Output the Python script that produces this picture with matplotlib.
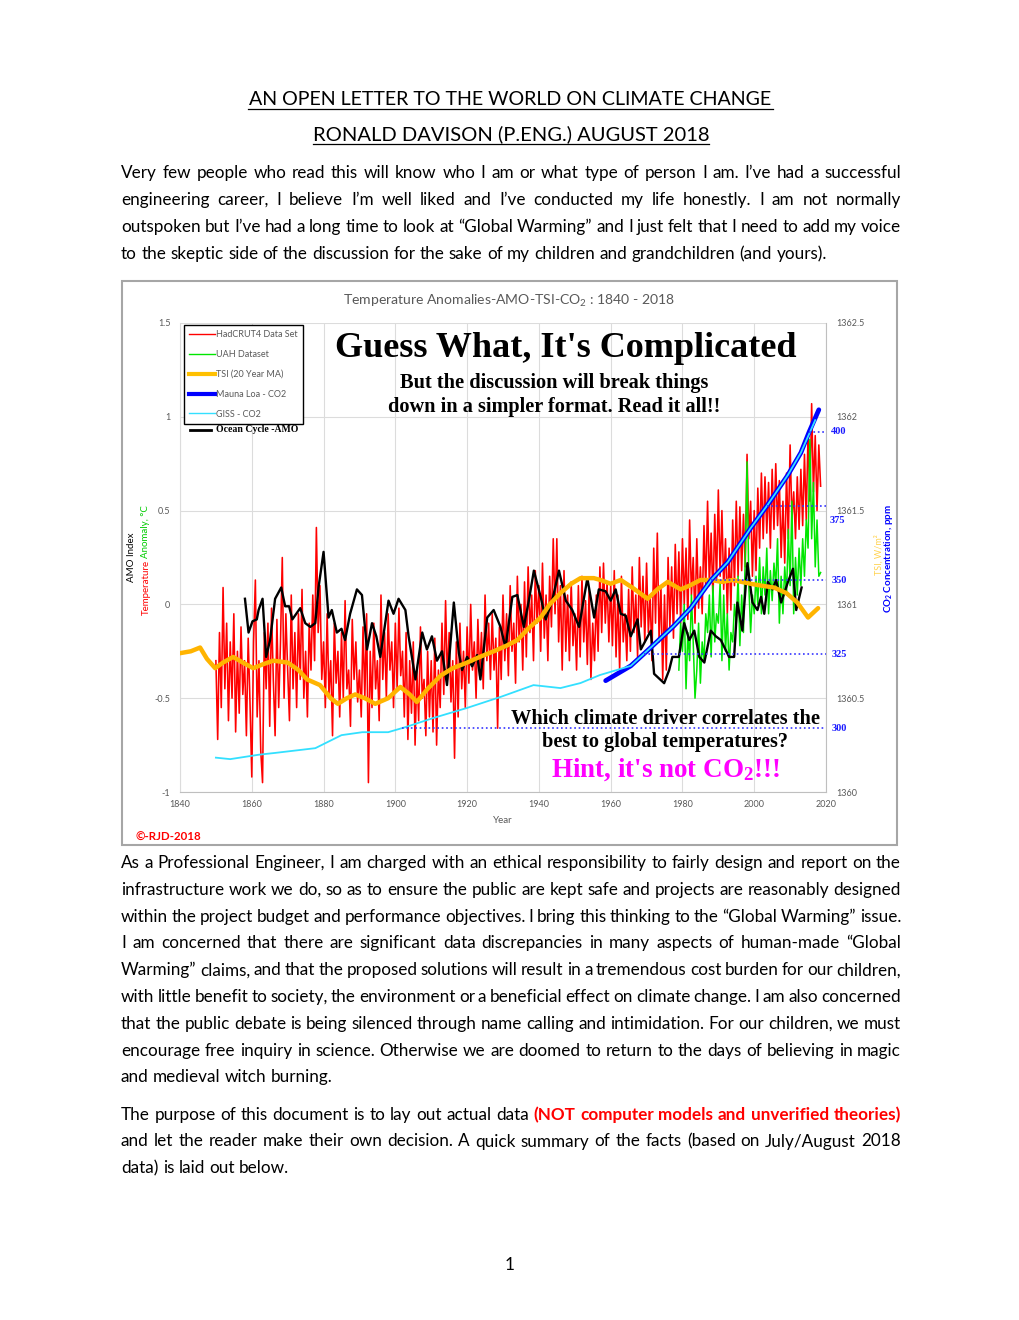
import numpy as np
import matplotlib.pyplot as plt
from matplotlib.lines import Line2D
from matplotlib.patches import Rectangle
from matplotlib.transforms import offset_copy

SANS = 'Lato'
SERIF = 'Liberation Serif'
plt.rcParams['font.family'] = [SANS, 'DejaVu Sans']
plt.rcParams['mathtext.default'] = 'regular'

W, H = 1020, 1320

# ---- values ----
# HadCRUT4 anomaly, half-year steps from 1850.0
hadcrut_start = 1850
hadcrut = [
    -0.30, -0.72, -0.15, -0.55, 0.09, -0.45, -0.10, -0.62, -0.20, -0.50, -0.05, -0.68, -0.25, -0.58, -0.12, -0.48, -0.30, -0.70, -0.18, -0.52,
    -0.92, -0.20, 0.13, -0.60, -0.30, -0.78, -0.95, -0.15, -0.45, -0.10, -0.65, -0.02, -0.40, -0.70, -0.08, -0.55, -0.20, 0.25, -0.50, -0.05,
    -0.35, -0.62, 0.05, -0.45, -0.15, -0.55, -0.05, -0.40, 0.08, -0.50, -0.25, -0.60, -0.10, -0.35, 0.05, -0.30, 0.41, -0.15, 0.10, -0.40,
    -0.20, -0.55, -0.05, -0.48, -0.30, -0.70, -0.10, -0.42, -0.25, -0.60, -0.15, -0.50, 0.02, -0.45, -0.35, -0.65, -0.08, -0.40, -0.20, -0.52,
    -0.35, -0.60, -0.12, -0.50, -0.05, -0.95, -0.25, -0.55, -0.10, -0.45, -0.30, -0.62, 0.05, -0.40, -0.15, -0.50, -0.05, -0.35, -0.20, -0.55,
    -0.10, -0.45, -0.02, -0.38, -0.25, -0.60, -0.15, -0.72, -0.30, -0.58, -0.20, -0.75, -0.35, -0.62, -0.12, -0.50, -0.40, -0.70, -0.25, -0.60,
    -0.30, -0.68, -0.18, -0.75, -0.35, -0.55, -0.10, -0.48, 0.02, -0.40, -0.15, -0.52, -0.30, -0.82, -0.20, -0.60, -0.10, -0.45, -0.25, -0.55,
    -0.12, -0.42, 0.00, -0.35, -0.20, -0.50, -0.08, -0.38, -0.15, -0.45, 0.05, -0.30, -0.10, -0.40, -0.05, -0.35, -0.18, -0.66, -0.12, -0.40,
    0.05, -0.30, -0.05, -0.38, 0.10, -0.25, -0.10, -0.42, 0.15, -0.20, 0.00, -0.35, 0.12, -0.28, 0.20, -0.15, 0.05, -0.30, 0.18, -0.10,
    0.10, -0.25, 0.22, -0.18, 0.05, -0.30, 0.15, -0.12, 0.35, -0.05, 0.35, -0.20, 0.10, -0.35, 0.18, -0.25, 0.05, -0.30, 0.12, -0.22,
    -0.05, -0.35, 0.10, -0.28, 0.15, -0.20, 0.02, -0.32, 0.08, -0.40, -0.10, -0.30, 0.05, -0.25, 0.20, -0.15, 0.22, -0.10, 0.12, -0.20,
    0.10, -0.22, 0.18, -0.28, 0.05, -0.35, 0.15, -0.20, -0.05, -0.30, 0.08, -0.25, 0.20, -0.15, 0.05, -0.28, 0.25, -0.12, 0.15, -0.20,
    0.22, -0.15, 0.05, -0.30, 0.30, -0.10, 0.38, -0.20, 0.10, -0.40, 0.05, -0.35, 0.25, -0.12, 0.20, -0.18, 0.32, -0.05, 0.28, -0.10,
    0.35, 0.00, 0.30, -0.08, 0.45, 0.05, 0.25, -0.10, 0.35, -0.02, 0.20, -0.05, 0.42, 0.08, 0.55, 0.10, 0.38, 0.02, 0.48, 0.12,
    0.61, 0.15, 0.50, 0.08, 0.35, -0.05, 0.30, -0.03, 0.45, 0.10, 0.55, 0.15, 0.52, 0.18, 0.48, 0.20, 0.80, 0.35, 0.55, 0.15,
    0.50, 0.18, 0.62, 0.30, 0.70, 0.35, 0.68, 0.38, 0.65, 0.30, 0.72, 0.40, 0.75, 0.42, 0.66, 0.25, 0.55, 0.22, 0.70, 0.35,
    0.85, 0.45, 0.60, 0.35, 0.68, 0.40, 0.72, 0.42, 0.80, 0.45, 0.92, 0.55, 1.07, 0.60, 0.90, 0.50, 0.85, 0.63,
]

# UAH anomaly, half-year steps from 1979.0
uah_start = 1979
uah = [
    -0.35, -0.10, -0.25, 0.00, -0.45, -0.15, -0.30, 0.05, -0.20, -0.50, -0.35, -0.10, -0.42, -0.20, -0.30, -0.05, -0.15, 0.05, -0.28, 0.10,
    -0.20, -0.05, -0.10, 0.12, -0.30, 0.05, -0.25, -0.05, -0.35, -0.15, -0.20, 0.00, -0.10, 0.15, -0.22, 0.05, -0.15, 0.25, 0.76, 0.10,
    -0.15, 0.05, -0.05, 0.15, 0.00, 0.25, -0.05, 0.20, 0.05, 0.30, -0.05, 0.18, 0.02, 0.22, 0.10, 0.35, -0.10, 0.15, -0.05, 0.20,
    0.05, 0.40, 0.10, 0.55, -0.05, 0.25, 0.05, 0.30, 0.10, 0.35, 0.15, 0.45, 0.30, 0.88, 0.35, 0.65, 0.20, 0.45, 0.15, 0.17,
]

amo_years = [
    1858.1, 1859.1, 1860.2, 1861.4, 1861.9, 1863.0, 1864.0, 1865.1, 1866.5, 1868.2,
    1869.3, 1870.4, 1871.3, 1873.5, 1874.9, 1876.3, 1877.7, 1878.6, 1880.0, 1881.4,
    1882.3, 1883.7, 1885.0, 1886.0, 1887.4, 1889.3, 1890.7, 1892.1, 1893.5, 1894.7,
    1895.8, 1898.1, 1899.5, 1900.9, 1902.8, 1903.7, 1905.6, 1907.5, 1908.8, 1910.2,
    1911.6, 1913.0, 1914.4, 1916.3, 1917.7, 1918.6, 1920.0, 1921.4, 1922.8, 1923.7,
    1925.6, 1927.4, 1929.3, 1930.7, 1932.6, 1934.0, 1935.8, 1937.2, 1938.6, 1940.5,
    1941.9, 1943.7, 1945.6, 1947.5, 1949.3, 1951.2, 1953.5, 1955.4, 1956.7, 1958.6,
    1960.0, 1961.4, 1962.8, 1964.2, 1965.6, 1967.5, 1968.4, 1971.2, 1972.1, 1974.9,
    1976.3, 1977.2, 1979.0, 1980.5, 1981.9, 1983.3, 1984.7, 1986.1, 1987.9, 1989.3,
    1990.7, 1993.0, 1994.4, 1995.3, 1996.7, 1998.1, 1999.5, 2000.9, 2001.9, 2002.8,
    2003.8, 2005.1, 2006.1, 2007.5, 2009.4, 2010.8, 2011.7, 2013.2,
]
amo = [
    0.03, -0.15, -0.09, -0.08, -0.03, 0.03, -0.28, -0.19, 0.03, 0.09,
    -0.01, -0.01, -0.08, -0.02, -0.10, -0.12, -0.10, 0.09, 0.28, -0.07,
    -0.03, -0.15, -0.13, -0.19, -0.05, 0.08, 0.05, -0.24, -0.10, -0.17,
    -0.28, 0.02, -0.05, 0.03, -0.03, -0.17, -0.40, -0.15, -0.24, -0.17,
    -0.30, -0.25, -0.43, 0.01, -0.26, -0.35, -0.28, -0.33, -0.27, -0.40,
    -0.07, -0.03, -0.12, -0.23, 0.04, 0.05, -0.12, 0.02, 0.18, 0.04,
    -0.08, 0.02, 0.18, 0.02, -0.03, -0.12, 0.14, -0.07, 0.08, 0.07,
    0.02, 0.08, -0.05, -0.06, -0.17, -0.08, -0.24, -0.14, -0.37, -0.42,
    -0.35, -0.28, -0.28, -0.10, -0.19, -0.14, -0.28, -0.31, -0.14, -0.17,
    -0.19, -0.28, -0.28, 0.01, -0.14, 0.22, 0.01, -0.03, 0.04, -0.05,
    0.12, 0.08, 0.13, 0.01, 0.12, 0.19, -0.03, 0.09,
]

tsi_years = [
    1840.0, 1843.0, 1845.6, 1847.5, 1849.8, 1852.0, 1854.8, 1857.5, 1860.4, 1863.0,
    1866.0, 1870.0, 1873.0, 1875.4, 1879.0, 1882.0, 1884.0, 1886.5, 1888.8, 1891.5,
    1894.4, 1898.0, 1901.4, 1904.0, 1906.0, 1909.0, 1912.6, 1916.0, 1920.0, 1923.5,
    1927.4, 1931.0, 1934.0, 1937.0, 1940.5, 1943.0, 1946.0, 1949.0, 1951.6, 1955.3,
    1957.2, 1960.0, 1962.8, 1966.0, 1970.3, 1973.0, 1975.9, 1979.5, 1982.0, 1985.0,
    1988.0, 1991.0, 1994.0, 1996.5, 1999.0, 2002.0, 2005.5, 2009.0, 2012.0, 2015.0, 2017.8,
]
tsi = [
    1360.74, 1360.75, 1360.77, 1360.71, 1360.66, 1360.69, 1360.72, 1360.69, 1360.66, 1360.68,
    1360.70, 1360.69, 1360.65, 1360.60, 1360.57, 1360.50, 1360.47, 1360.50, 1360.52, 1360.50,
    1360.47, 1360.50, 1360.56, 1360.52, 1360.48, 1360.55, 1360.62, 1360.66, 1360.69, 1360.72,
    1360.75, 1360.78, 1360.81, 1360.87, 1360.93, 1361.00, 1361.06, 1361.11, 1361.14, 1361.14,
    1361.13, 1361.11, 1361.13, 1361.09, 1361.03, 1361.08, 1361.12, 1361.08, 1361.10, 1361.13,
    1361.13, 1361.12, 1361.13, 1361.12, 1361.11, 1361.10, 1361.09, 1361.06, 1361.01, 1360.93, 1360.98,
]

giss_years = [1850, 1854, 1862, 1866.5, 1877.7, 1885, 1890.8, 1898, 1902.8, 1910.6, 1920, 1929.3, 1938.5,
              1946, 1951.6, 1957, 1965.6, 1971, 1977.6, 1982.3, 1988, 1992.6, 1999, 2003.8, 2009.4, 2013, 2017]
giss_co2 = [290, 289.5, 291, 291.6, 293.2, 297.6, 298.6, 298.6, 300.3, 303.4, 306.8, 310.5, 314.5,
            313.5, 315.2, 317.9, 321, 327, 334.5, 340.5, 350, 356, 367.5, 375.5, 385.5, 393, 404]

mlo_years = [1958.6, 1965.6, 1971, 1977.6, 1982.3, 1988, 1992.6, 1999, 2003.8, 2009.4, 2013, 2015.3, 2018]
mlo_co2 = [316, 321, 327, 334.5, 340.5, 350, 356, 367.5, 375.5, 385.5, 393, 400, 407.5]

co2_levels = [300, 325, 350, 375, 400]
year_ticks = [1840, 1860, 1880, 1900, 1920, 1940, 1960, 1980, 2000, 2020]
temp_ticks = [-1, -0.5, 0, 0.5, 1, 1.5]
temp_labels = ['-1', '-0.5', '0', '0.5', '1', '1.5']
tsi_ticks = [1360, 1360.5, 1361, 1361.5, 1362, 1362.5]
tsi_labels = ['1360', '1360.5', '1361', '1361.5', '1362', '1362.5']
legend_labels = ['HadCRUT4 Data Set', 'UAH Dataset', 'TSI (20 Year MA)', 'Mauna Loa - CO2', 'GISS - CO2']

title_lines = ['AN OPEN LETTER TO THE WORLD ON CLIMATE CHANGE', 'RONALD DAVISON (P.ENG.) AUGUST 2018']

para1 = [
    'Very few people who read this will know who I am or what type of person I am. I’ve had a successful',
    'engineering career, I believe I’m well liked and I’ve conducted my life honestly. I am not normally',
    'outspoken but I’ve had a long time to look at “Global Warming” and I just felt that I need to add my voice',
    'to the skeptic side of the discussion for the sake of my children and grandchildren (and yours).',
]
para2 = [
    'As a Professional Engineer, I am charged with an ethical responsibility to fairly design and report on the',
    'infrastructure work we do, so as to ensure the public are kept safe and projects are reasonably designed',
    'within the project budget and performance objectives. I bring this thinking to the “Global Warming” issue.',
    'I am concerned that there are significant data discrepancies in many aspects of human-made “Global',
    'Warming” claims, and that the proposed solutions will result in a tremendous cost burden for our children,',
    'with little benefit to society, the environment or a beneficial effect on climate change. I am also concerned',
    'that the public debate is being silenced through name calling and intimidation. For our children, we must',
    'encourage free inquiry in science. Otherwise we are doomed to return to the days of believing in magic',
    'and medieval witch burning.',
]
para3_first = ('The purpose of this document is to lay out actual data', '(NOT computer models and unverified theories)')
para3 = [
    'and let the reader make their own decision. A quick summary of the facts (based on July/August 2018',
    'data) is laid out below.',
]


def fx(px):
    return px / W


def fy(py):
    return 1 - py / H


fig = plt.figure(figsize=(W / 100, H / 100), dpi=100)
fig.patch.set_facecolor('white')
rend = fig.canvas.get_renderer()


def width_of(s, fs, weight='normal', family=SANS):
    t = fig.text(0, 0, s, fontsize=fs, fontweight=weight, family=family)
    w = t.get_window_extent(rend).width
    t.remove()
    return w


def fit_text(x0, x1, ybase, s, **kw):
    # scale the font so the text spans x0..x1 like in the page
    t = fig.text(fx((x0 + x1) / 2), fy(ybase), s, ha='center', va='baseline', **kw)
    w = t.get_window_extent(rend).width
    t.set_fontsize(t.get_fontsize() * (x1 - x0) / w)
    return t


# ---- page heading ----
for s, (x0, x1), yb in zip(title_lines, [(248, 773), (313, 709)], [105, 140]):
    fit_text(x0, x1, yb, s, fontsize=14, family=SANS, color='black')
    fig.add_artist(Line2D([fx(x0), fx(x1)], [fy(yb + 4), fy(yb + 4)], color='black', lw=0.9))

# ---- body text (justified) ----
LEFT, RIGHT = 121, 901
base_fs = 13.0
space_w = width_of('a a', base_fs) - width_of('aa', base_fs)
justified = para1[:-1] + para2[:-1] + [para3[0], ' '.join(para3_first)]
ratio = 1.0
for line in justified:
    ws = line.split()
    nat = sum(width_of(w, base_fs) for w in ws) + (len(ws) - 1) * 0.8 * space_w
    ratio = min(ratio, (RIGHT - LEFT) / nat)
body_fs = base_fs * ratio
space_w = space_w * ratio


def put_line(chunks, ybase, justify):
    words = []
    for s, color, weight in chunks:
        for w in s.split():
            words.append((w, color, weight))
    widths = [width_of(w, body_fs, wt) for w, c, wt in words]
    gap = (RIGHT - LEFT - sum(widths)) / (len(words) - 1) if justify else space_w
    x = LEFT
    for (w, c, wt), wd in zip(words, widths):
        fig.text(fx(x), fy(ybase), w, fontsize=body_fs, family=SANS, color=c,
                 fontweight=wt, va='baseline')
        x += wd + gap


for i, line in enumerate(para1):
    put_line([(line, 'black', 'normal')], 178 + i * 27, i < len(para1) - 1)
for i, line in enumerate(para2):
    put_line([(line, 'black', 'normal')], 868 + i * 26.8, i < len(para2) - 1)
put_line([(para3_first[0], 'black', 'normal'), (para3_first[1], '#ff0000', 'bold')], 1120, True)
for i, line in enumerate(para3):
    put_line([(line, 'black', 'normal')], 1146.5 + i * 26.5, i < len(para3) - 1)
fig.text(fx(510), fy(1270), '1', fontsize=body_fs, family=SANS, ha='center', va='baseline')

# ---- chart frame ----
fig.add_artist(Rectangle((fx(122), fy(845)), (897 - 122) / W, (845 - 281) / H,
                         transform=fig.transFigure, fill=False, edgecolor='#a6a6a6', lw=1.5))
fit_text(343, 676, 305, 'Temperature Anomalies-AMO-TSI-CO$_2$ : 1840 - 2018',
         fontsize=10, family=SANS, color='#595959')

ax = fig.add_axes([fx(180), fy(792), (826 - 180) / W, (792 - 323) / H])
ax.set_xlim(1840, 2020)
ax.set_ylim(-1, 1.5)
ax.grid(True, color='#dcdcdc', lw=0.8)
ax.set_axisbelow(True)
ax.set_xticks(year_ticks)
ax.set_yticks(temp_ticks, temp_labels)
ax.tick_params(axis='both', length=0, labelsize=6.5, labelcolor='#595959')
ax.tick_params(axis='y', pad=7)
ax.tick_params(axis='x', pad=6)
ax.set_xlabel('Year', fontsize=7, color='#595959', labelpad=5)
for side in ['top', 'right']:
    ax.spines[side].set_visible(False)
ax.spines['left'].set_color('#dcdcdc')
ax.spines['bottom'].set_color('#bfbfbf')

had_years = hadcrut_start + 0.5 * np.arange(len(hadcrut))
uah_years = uah_start + 0.5 * np.arange(len(uah))
ax.plot(had_years, hadcrut, color='#ff0000', lw=1.15)
ax.plot(uah_years, uah, color='#00e600', lw=1.1)
ax.plot(amo_years, amo, color='black', lw=1.7)

ax_tsi = ax.twinx()
ax_tsi.set_ylim(1360, 1362.5)
ax_tsi.set_yticks(tsi_ticks, tsi_labels)
ax_tsi.tick_params(axis='y', length=0, labelsize=6.5, labelcolor='#595959', pad=7.5)
for side in ['top', 'left', 'bottom']:
    ax_tsi.spines[side].set_visible(False)
ax_tsi.spines['right'].set_color('#bfbfbf')
ax_tsi.plot(tsi_years, tsi, color='#ffb400', lw=3.2, solid_capstyle='round')

ax_co2 = ax.twinx()
ax_co2.set_ylim(278.4, 436.8)
ax_co2.set_axis_off()
ax_co2.plot(mlo_years, mlo_co2, color='#0000ff', lw=3.4, solid_capstyle='round')
ax_co2.plot(giss_years, giss_co2, color='#33e0ff', lw=1.3)
lab_tr = ax_co2.get_yaxis_transform()
for lev in co2_levels:
    if lev < mlo_co2[0]:
        start = np.interp(lev, giss_co2, giss_years)
    else:
        start = np.interp(lev, mlo_co2, mlo_years)
    ax_co2.hlines(lev, start, 2020, colors='#3333ff', linestyles=':', lw=1.2, clip_on=False)
    if lev == 375:
        # sits just under the 1361.5 label, as in the page
        ax_co2.text(1.006, lev, str(lev), transform=offset_copy(lab_tr, fig=fig, y=-10, units='dots'),
                    color='#1a1aff', fontweight='bold', family=SERIF, fontsize=7.5, ha='left', va='top')
    else:
        ax_co2.text(1.008, lev, str(lev), transform=lab_tr, color='#1a1aff', fontweight='bold',
                    family=SERIF, fontsize=7.5, ha='left', va='center')

handles = [Line2D([], [], color='#ff0000', lw=1), Line2D([], [], color='#00e600', lw=1),
           Line2D([], [], color='#ffc000', lw=3), Line2D([], [], color='#0000ff', lw=3),
           Line2D([], [], color='#33e0ff', lw=1)]
leg = ax_co2.legend(handles, legend_labels, loc='upper left', bbox_to_anchor=(0.006, 0.996),
                    fontsize=6.5, frameon=True, fancybox=False, edgecolor='black', framealpha=1,
                    handlelength=2.8, handletextpad=0.2, labelspacing=1.2, borderpad=0.6,
                    borderaxespad=0)
leg.get_frame().set_linewidth(1)
for t in leg.get_texts():
    t.set_color('#595959')
fig.add_artist(Line2D([fx(190), fx(211)], [fy(430), fy(430)], color='black', lw=2))
fig.text(fx(216), fy(430), 'Ocean Cycle -AMO', family=SERIF, fontweight='bold', fontsize=7, va='center')

# axis titles
fig.text(fx(132), fy(557), 'AMO Index', rotation=90, ha='center', va='center', fontsize=7, color='black')
t1 = fig.text(fx(146), fy(615), 'Temperature', rotation=90, ha='center', va='bottom', fontsize=7, color='#ff0000')
bb = t1.get_window_extent(rend)
fig.text(fx(146), (bb.y1 + 2) / H, 'Anomaly, °C', rotation=90, ha='center', va='bottom', fontsize=7, color='#00cc00')
fig.text(fx(879), fy(555), 'TSI, W/m²', rotation=90, ha='center', va='center', fontsize=6.5, color='#ffd24d')
fig.text(fx(889), fy(559), 'CO$_2$ Concentration, ppm', rotation=90, ha='center', va='center',
         fontsize=7, color='#0000ff', fontweight='bold')

# big annotations
fit_text(335, 797, 357, "Guess What, It's Complicated", family=SERIF, fontweight='bold', fontsize=26, color='black')
fit_text(400, 709, 388, 'But the discussion will break things', family=SERIF, fontweight='bold', fontsize=14, color='black')
fit_text(388, 721, 412, 'down in a simpler format. Read it all!!', family=SERIF, fontweight='bold', fontsize=14, color='black')
fit_text(511, 820, 724, 'Which climate driver correlates the', family=SERIF, fontweight='bold', fontsize=14, color='black')
fit_text(542, 788, 747, 'best to global temperatures?', family=SERIF, fontweight='bold', fontsize=14, color='black')
fit_text(551, 780, 777, "Hint, it's not CO$_2$!!!", family=SERIF, fontweight='bold', fontsize=18, color='#ff00ff')
fit_text(135, 201, 841, '©-RJD-2018', family=SANS, fontweight='bold', fontsize=8, color='#ff0000')

fig.savefig('out.png', dpi=100, facecolor='white')
